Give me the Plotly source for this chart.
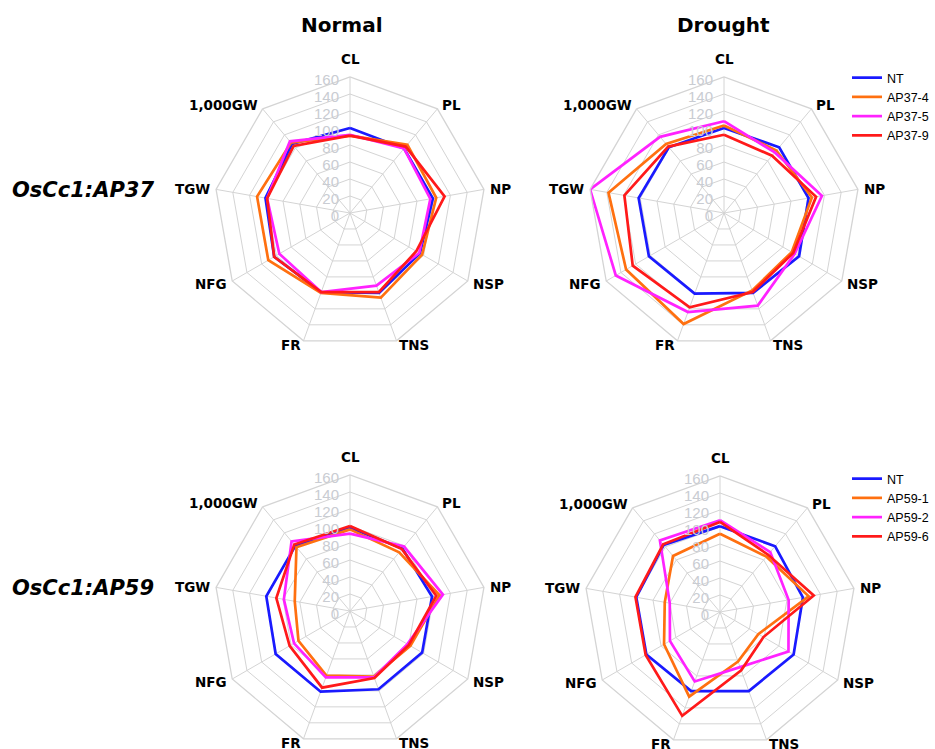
import math
import plotly.graph_objects as go

categories = ["CL", "PL", "NP", "NSP", "TNS", "FR", "NFG", "TGW", "1,000GW"]
radial_ticks = [0, 20, 40, 60, 80, 100, 120, 140, 160]

series_names_37 = ["NT", "AP37-4", "AP37-5", "AP37-9"]
series_names_59 = ["NT", "AP59-1", "AP59-2", "AP59-6"]
colors = ["#1a1aff", "#ff7010", "#ff22ff", "#ff1a1a"]

# Normal, OsCc1:AP37
normal_37 = [
    [100, 99, 99, 95, 100, 99, 103, 101, 106],
    [91, 105, 103, 98, 106, 100, 111, 111, 108],
    [92, 99, 96, 94, 91, 99, 96, 99, 110],
    [91, 102, 113, 90, 99, 99, 103, 99, 103],
]
# Drought, OsCc1:AP37
drought_37 = [
    [100, 101, 101, 102, 100, 101, 102, 102, 101],
    [103, 96, 105, 92, 97, 139, 133, 138, 106],
    [108, 93, 117, 96, 116, 124, 147, 160, 117],
    [92, 88, 110, 94, 99, 118, 124, 119, 102],
]
# Normal, OsCc1:AP59
normal_59 = [
    [98, 96, 98, 98, 98, 101, 101, 100, 100],
    [96, 90, 107, 82, 82, 81, 70, 66, 98],
    [91, 99, 111, 78, 83, 83, 76, 79, 107],
    [100, 95, 103, 80, 84, 96, 82, 88, 102],
]
# Drought, OsCc1:AP59
drought_59 = [
    [101, 101, 99, 100, 99, 99, 100, 100, 103],
    [92, 85, 106, 52, 62, 106, 76, 66, 86],
    [108, 92, 82, 93, 69, 87, 68, 60, 110],
    [106, 88, 112, 59, 73, 130, 101, 101, 104],
]

W, H = 935, 749

fig = go.Figure()

panels = [
    ("polar", normal_37, series_names_37, "legend", False),
    ("polar2", drought_37, series_names_37, "legend", True),
    ("polar3", normal_59, series_names_59, "legend2", False),
    ("polar4", drought_59, series_names_59, "legend2", True),
]

for subplot, data, names, leg, show in panels:
    for vals, name, col in zip(data, names, colors):
        fig.add_trace(go.Scatterpolar(
            r=vals + vals[:1],
            theta=categories + categories[:1],
            mode="lines",
            name=name,
            line=dict(color=col, width=2.7),
            subplot=subplot,
            legend=leg,
            showlegend=show,
        ))

R = 136  # polar radius in pixels
centers = [(350, 213), (724, 213), (350, 611), (720, 612)]


def polar_layout(cx, cy):
    dx = [(cx - R) / W, (cx + R) / W]
    dy = [max(0.0, 1 - (cy + R) / H), min(1.0, 1 - (cy - R) / H)]
    return dict(
        domain=dict(x=dx, y=dy),
        gridshape="linear",
        bgcolor="white",
        radialaxis=dict(
            range=[0, 160],
            tickvals=radial_ticks,
            angle=90,
            side="counterclockwise",
            showline=False,
            gridcolor="#d4d4d4",
            gridwidth=1.3,
            tickfont=dict(size=15, color="#c9ccd2", family="Liberation Sans Narrow, Liberation Sans"),
            ticks="",
        ),
        angularaxis=dict(
            direction="clockwise",
            rotation=90,
            showline=True,
            linecolor="#d4d4d4",
            linewidth=1.3,
            gridcolor="#d4d4d4",
            gridwidth=1.3,
            ticks="",
            showticklabels=False,
        ),
    )


# category labels around each web, placed just outside the outer ring
annotations = []
label_r = 141
for cx, cy in centers:
    n = len(categories)
    for k, cat in enumerate(categories):
        th = math.radians(360 * k / n)
        s, c = math.sin(th), math.cos(th)
        px = cx + label_r * s
        py = cy - label_r * c
        if s > 0.1:
            xa = "left"
        elif s < -0.1:
            xa = "right"
        else:
            xa = "center"
        ya = "bottom" if c > 0.9 else "middle"
        annotations.append(dict(
            text=cat, x=px / W, y=1 - py / H, xref="paper", yref="paper",
            xanchor=xa, yanchor=ya, showarrow=False, borderpad=0,
            yshift=4 if ya == "bottom" else 0,
            font=dict(size=13.5, family="DejaVu Sans", color="black", weight="bold"),
        ))

title_font = dict(size=20, family="DejaVu Sans", color="black")
row_font = dict(size=21, family="DejaVu Sans", color="black")
annotations += [
    dict(text="<b>Normal</b>", x=342 / W, y=1 - 25 / H, xref="paper", yref="paper",
         xanchor="center", yanchor="middle", showarrow=False, font=title_font),
    dict(text="<b>Drought</b>", x=723 / W, y=1 - 25 / H, xref="paper", yref="paper",
         xanchor="center", yanchor="middle", showarrow=False, font=title_font),
    dict(text="<b><i>OsCc1:AP37</i></b>", x=83 / W, y=1 - 190 / H, xref="paper", yref="paper",
         xanchor="center", yanchor="middle", showarrow=False, font=row_font),
    dict(text="<b><i>OsCc1:AP59</i></b>", x=83 / W, y=1 - 588 / H, xref="paper", yref="paper",
         xanchor="center", yanchor="middle", showarrow=False, font=row_font),
]

legend_font = dict(size=12.5, family="Liberation Sans", color="black")

fig.update_layout(
    width=W,
    height=H,
    paper_bgcolor="white",
    plot_bgcolor="white",
    margin=dict(l=0, r=0, t=0, b=0),
    polar=polar_layout(*centers[0]),
    polar2=polar_layout(*centers[1]),
    polar3=polar_layout(*centers[2]),
    polar4=polar_layout(*centers[3]),
    legend=dict(x=847 / W, y=1 - 63 / H, xanchor="left", yanchor="top",
                font=legend_font, bgcolor="rgba(0,0,0,0)", tracegroupgap=0, itemwidth=30),
    legend2=dict(x=847 / W, y=1 - 464 / H, xanchor="left", yanchor="top",
                 font=legend_font, bgcolor="rgba(0,0,0,0)", tracegroupgap=0, itemwidth=30),
    annotations=annotations,
)

fig.write_html("out.html", config={"displayModeBar": False},
               post_script="document.body.style.margin='0px';")
